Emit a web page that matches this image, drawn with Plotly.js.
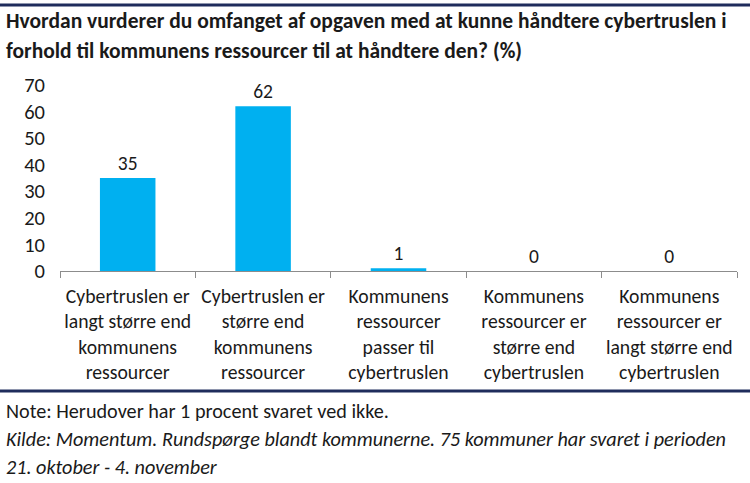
<!DOCTYPE html>
<html><head><meta charset="utf-8">
<script src="https://cdn.plot.ly/plotly-3.0.1.min.js"></script>
<style>body{margin:0;background:#fff}#c{width:750px;height:483px}</style>
</head><body><div id="c"></div>
<script>
const categories = [
  "Cybertruslen er<br>langt større end<br>kommunens<br>ressourcer",
  "Cybertruslen er<br>større end<br>kommunens<br>ressourcer",
  "Kommunens<br>ressourcer<br>passer til<br>cybertruslen",
  "Kommunens<br>ressourcer er<br>større end<br>cybertruslen",
  "Kommunens<br>ressourcer er<br>langt større end<br>cybertruslen"
];
const values = [35, 62, 1, 0, 0];
const yTicks = [0, 10, 20, 30, 40, 50, 60, 70];
const titleLines = [
  "Hvordan vurderer du omfanget af opgaven med at kunne håndtere cybertruslen i",
  "forhold til kommunens ressourcer til at håndtere den? (%)"
];
const noteText = "Note: Herudover har 1 procent svaret ved ikke.";
const sourceLines = [
  "Kilde: Momentum. Rundspørge blandt kommunerne. 75 kommuner har svaret i perioden",
  "21. oktober - 4. november"
];

const FONT = "Carlito, Lato, 'Open Sans', sans-serif";
const W = 750, H = 483, L = 60, R = 13, T = 85, B = 212;
const pw = W - L - R, ph = H - T - B;
const px = x => (x - L) / pw;
const py = y => (H - B - y) / ph;

const annotations = [];
titleLines.forEach((t, i) => annotations.push({
  text: "<b>" + t + "</b>", xref: "paper", yref: "paper", x: px(4), y: py(21 + i * 30),
  xanchor: "left", yanchor: "middle", showarrow: false,
  font: {family: FONT, size: 21.5, color: "#1a1a1a"}
}));
annotations.push({
  text: noteText, xref: "paper", yref: "paper", x: px(4), y: py(411),
  xanchor: "left", yanchor: "middle", showarrow: false,
  font: {family: FONT, size: 20.2, color: "#1a1a1a"}
});
sourceLines.forEach((t, i) => annotations.push({
  text: "<i>" + t + "</i>", xref: "paper", yref: "paper", x: px(4), y: py(439 + i * 28),
  xanchor: "left", yanchor: "middle", showarrow: false,
  font: {family: FONT, size: 20.2, color: "#1a1a1a"}
}));

const shapes = [
  {type: "line", xref: "paper", yref: "paper", x0: px(0), x1: px(750), y0: py(5), y1: py(5),
   line: {color: "#1F2C5C", width: 3}},
  {type: "line", xref: "paper", yref: "paper", x0: px(0), x1: px(750), y0: py(391), y1: py(391),
   line: {color: "#1F2C5C", width: 3}}
];

Plotly.newPlot("c", [{
  type: "bar", x: categories, y: values,
  marker: {color: "#00B0F0"},
  width: 0.41,
  text: values.map(String), textposition: "outside", cliponaxis: false,
  textfont: {family: FONT, size: 19.5, color: "#1a1a1a"},
  hoverinfo: "none"
}], {
  width: W, height: H,
  margin: {l: L, r: R, t: T, b: B},
  paper_bgcolor: "#fff", plot_bgcolor: "#fff",
  showlegend: false,
  font: {family: FONT, color: "#1a1a1a"},
  xaxis: {
    showline: true, linecolor: "#8c8c8c", linewidth: 1,
    ticks: "outside", ticklen: 6, tickcolor: "#8c8c8c", tickson: "boundaries",
    tickfont: {family: FONT, size: 19.7, color: "#1a1a1a"},
    tickangle: 0, showgrid: false, zeroline: false, ticklabelstandoff: 7
  },
  yaxis: {
    range: [0, 70], tickvals: yTicks, ticktext: yTicks.map(String),
    showgrid: false, zeroline: false, showline: false, ticks: "",
    tickfont: {family: FONT, size: 20.5, color: "#1a1a1a"}, ticklabelstandoff: 14
  },
  annotations, shapes
}, {displayModeBar: false, staticPlot: true});
</script></body></html>
